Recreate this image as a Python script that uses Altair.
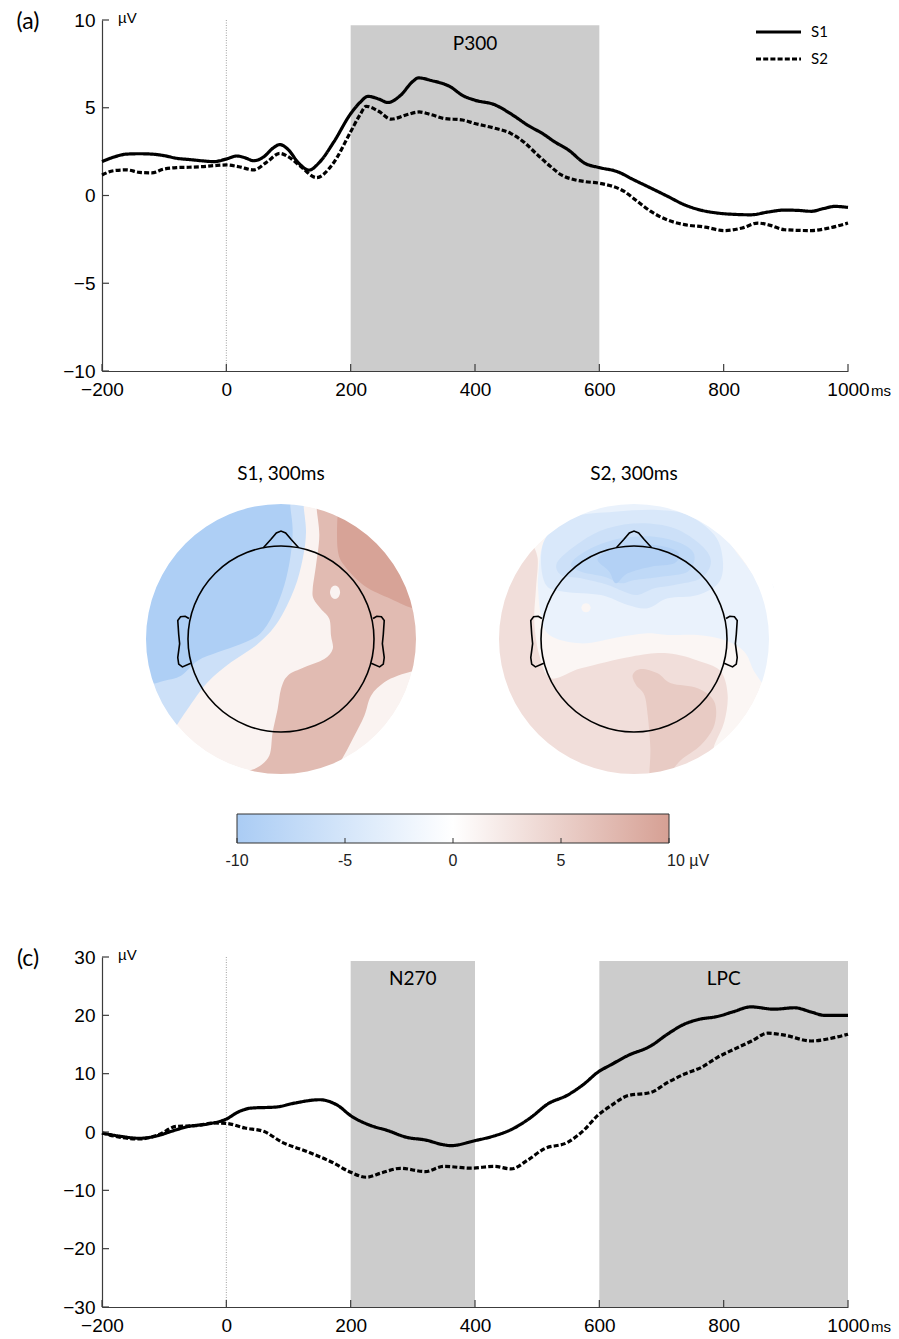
import altair as alt
import pandas as pd

# ------------------------------------------------------------------ data
X_TICKS = [-200, 0, 200, 400, 600, 800, 1000]
ONSET = [0]
CONDITIONS = ["S1", "S2"]

# (a) P300 waveforms  (ms, µV)
A_Y_TICKS = [-10, -5, 0, 5, 10]
A_S1 = [(-200, 1.93), (-180, 2.2), (-160, 2.36), (-140, 2.38), (-120, 2.36), (-100, 2.27), (-80, 2.12),
        (-60, 2.05), (-40, 1.98), (-20, 1.93), (0, 2.08), (17, 2.25), (30, 2.15), (44, 1.98), (60, 2.2),
        (75, 2.7), (86, 2.9), (100, 2.6), (115, 1.9), (133, 1.45), (150, 1.9), (173, 3.06), (200, 4.66),
        (215, 5.3), (228, 5.65), (245, 5.5), (260, 5.3), (280, 5.7), (300, 6.5), (309, 6.7), (330, 6.55),
        (361, 6.18), (380, 5.7), (400, 5.43), (431, 5.18), (460, 4.6), (485, 4.0), (510, 3.5), (528, 3.06),
        (550, 2.6), (577, 1.83), (600, 1.59), (629, 1.36), (655, 0.9), (683, 0.42), (710, -0.05),
        (737, -0.53), (765, -0.85), (790, -1.0), (820, -1.08), (844, -1.1), (870, -0.95), (898, -0.83),
        (920, -0.85), (941, -0.9), (960, -0.75), (979, -0.62), (1000, -0.68)]
A_S2 = [(-200, 1.17), (-180, 1.42), (-160, 1.46), (-140, 1.32), (-120, 1.29), (-100, 1.51), (-80, 1.59),
        (-60, 1.61), (-40, 1.64), (-20, 1.70), (0, 1.74), (20, 1.64), (44, 1.46), (65, 1.9), (86, 2.4),
        (100, 2.2), (120, 1.64), (145, 1.02), (170, 1.74), (200, 3.63), (215, 4.6), (225, 5.08), (245, 4.8),
        (265, 4.35), (290, 4.6), (310, 4.76), (330, 4.6), (350, 4.39), (380, 4.3), (400, 4.1), (430, 3.85),
        (458, 3.53), (480, 3.0), (501, 2.3), (520, 1.7), (539, 1.17), (560, 0.9), (577, 0.79), (600, 0.7),
        (640, 0.23), (660, -0.3), (683, -0.91), (710, -1.4), (737, -1.66), (770, -1.8), (801, -2.0),
        (830, -1.85), (855, -1.57), (875, -1.7), (898, -1.95), (941, -2.0), (970, -1.85), (1000, -1.57)]
A_WINDOWS = [(200, 600, "P300")]

# (c) N270 / LPC waveforms
C_Y_TICKS = [-30, -20, -10, 0, 10, 20, 30]
C_S1 = [(-200, -0.17), (-170, -0.74), (-140, -1.08), (-110, -0.63), (-90, 0.06), (-60, 0.97), (-30, 1.37),
        (0, 2.22), (20, 3.48), (40, 4.1), (80, 4.28), (110, 4.96), (150, 5.53), (180, 4.5), (200, 2.8),
        (230, 1.2), (260, 0.23), (290, -0.91), (320, -1.37), (350, -2.2), (361, -2.34), (400, -1.48),
        (430, -0.7), (458, 0.4), (490, 2.5), (517, 4.8), (549, 6.33), (575, 8.2), (597, 10.2), (620, 11.6),
        (645, 13.06), (683, 14.77), (710, 16.8), (737, 18.5), (760, 19.3), (790, 19.8), (815, 20.6),
        (844, 21.45), (881, 21.05), (914, 21.3), (940, 20.6), (962, 20.0), (1000, 20.0)]
C_S2 = [(-200, -0.17), (-170, -0.91), (-140, -1.2), (-110, -0.51), (-80, 0.97), (-50, 1.08), (-20, 1.54),
        (0, 1.48), (30, 0.68), (60, 0.11), (90, -1.77), (130, -3.37), (170, -5.19), (200, -6.9), (225, -7.76),
        (250, -7.0), (280, -6.22), (320, -6.79), (350, -5.88), (393, -6.2), (431, -5.88), (458, -6.33),
        (485, -4.8), (511, -2.9), (549, -1.77), (575, 0.3), (597, 2.8), (620, 4.6), (645, 6.2), (683, 6.8),
        (710, 8.5), (737, 9.93), (764, 11.07), (790, 12.8), (817, 14.2), (845, 15.6), (871, 16.94),
        (898, 16.6), (941, 15.6), (970, 16.0), (1000, 16.77)]
C_WINDOWS = [(200, 400, "N270"), (600, 1000, "LPC")]

# (b) topographic maps: contour regions (head units, head radius = 1, nose up), µV level
MAP_TITLES = {"S1": "S1, 300ms", "S2": "S2, 300ms"}
MAP_BASE_LEVEL = {"S1": 1.3, "S2": 1.0}

S1_LIGHTBLUE = [(-1.18, -1.02), (-1.147, -0.968), (-1.004, -0.753), (-0.789, -0.466), (-0.538, -0.251),
                (-0.251, -0.054), (-0.036, 0.179), (0.143, 0.538), (0.233, 0.860), (0.269, 1.147),
                (0.244, 1.434), (0.26, 1.55), (0.0, 1.56), (-0.775, 1.342), (-1.342, 0.775), (-1.55, 0.0),
                (-1.342, -0.775)]
S1_DARKBLUE = [(-1.50, -0.42), (-1.416, -0.484), (-1.254, -0.448), (-1.075, -0.394), (-0.896, -0.233),
               (-0.681, -0.143), (-0.430, -0.054), (-0.251, 0.036), (-0.143, 0.161), (-0.036, 0.376),
               (0.054, 0.645), (0.108, 0.932), (0.125, 1.183), (0.100, 1.427), (0.10, 1.56), (-0.40, 1.51),
               (-0.775, 1.342), (-1.342, 0.775), (-1.55, 0.0)]
S1_PINK = [(0.384, 1.405), (0.412, 1.111), (0.376, 0.789), (0.341, 0.538), (0.351, 0.430), (0.430, 0.323),
           (0.520, 0.215), (0.538, 0.036), (0.556, -0.108), (0.466, -0.215), (0.251, -0.305), (0.072, -0.394),
           (0.0, -0.538), (-0.036, -0.753), (-0.090, -1.004), (-0.125, -1.254), (-0.251, -1.380),
           (-0.394, -1.434), (-0.42, -1.50), (0.0, -1.56), (0.53, -1.46), (0.645, -1.308), (0.771, -1.075),
           (0.896, -0.824), (0.968, -0.609), (1.111, -0.466), (1.254, -0.394), (1.434, -0.341), (1.53, -0.30),
           (1.55, 0.0), (1.342, 0.775), (0.775, 1.342), (0.40, 1.51)]
S1_DARKPINK = [(0.609, 1.344), (0.609, 0.968), (0.681, 0.789), (0.896, 0.573), (1.183, 0.430), (1.416, 0.330),
               (1.54, 0.33), (1.342, 0.775), (1.0, 1.18), (0.64, 1.43)]
S1_HOLE = [(0.635, 0.502), (0.619, 0.553), (0.581, 0.574), (0.543, 0.553), (0.527, 0.502), (0.543, 0.451),
           (0.581, 0.430), (0.619, 0.451)]

S2_PINK = [(-1.108, 1.047), (-1.036, 0.867), (-1.054, 0.545), (-1.072, 0.186), (-1.018, -0.172), (-0.892, -0.423),
           (-0.570, -0.315), (-0.032, -0.190), (0.362, -0.154), (0.720, -0.244), (0.935, -0.351), (1.007, -0.602),
           (0.971, -0.889), (0.864, -1.140), (0.792, -1.355), (0.0, -1.56), (-0.775, -1.342), (-1.342, -0.775),
           (-1.55, 0.0), (-1.342, 0.775), (-1.134, 1.057)]
S2_FINGER = [(-0.014, -0.387), (0.075, -0.323), (0.254, -0.369), (0.398, -0.477), (0.685, -0.530), (0.864, -0.674),
             (0.864, -0.925), (0.720, -1.140), (0.505, -1.301), (0.398, -1.444), (0.40, -1.53), (0.17, -1.55),
             (0.165, -1.444), (0.176, -1.176), (0.147, -0.817), (0.111, -0.602), (0.022, -0.495)]
S2_PALEBLUE = [(-0.570, 1.405), (-0.821, 1.262), (-0.982, 1.011), (-1.029, 0.688), (-1.029, 0.509), (-1.0, 0.258),
               (-0.910, 0.043), (-0.570, -0.047), (-0.140, 0.025), (0.147, 0.061), (0.362, 0.043), (0.685, 0.043),
               (0.971, -0.011), (1.186, -0.136), (1.294, -0.351), (1.419, -0.513), (1.50, -0.52), (1.56, 0.0),
               (1.50, 0.56), (1.401, 0.545), (1.151, 0.867), (0.935, 1.154), (0.649, 1.369), (0.66, 1.45),
               (0.0, 1.56), (-0.60, 1.45)]
S2_LIGHTBLUE = [(-1.0, 0.867), (-0.928, 1.118), (-0.642, 1.315), (-0.211, 1.369), (0.254, 1.387), (0.577, 1.333),
                (0.864, 1.118), (0.953, 0.867), (0.918, 0.616), (0.685, 0.473), (0.362, 0.437), (0.147, 0.330),
                (-0.068, 0.366), (-0.355, 0.473), (-0.749, 0.509), (-0.946, 0.581)]
S2_BLUE = [(-0.821, 0.832), (-0.570, 1.047), (-0.283, 1.190), (0.075, 1.244), (0.434, 1.190), (0.720, 1.011),
           (0.828, 0.832), (0.720, 0.652), (0.434, 0.581), (0.219, 0.545), (0.039, 0.473), (-0.104, 0.509),
           (-0.283, 0.581), (-0.570, 0.652), (-0.785, 0.688)]
S2_DARKBLUE = [(-0.677, 0.814), (-0.462, 0.975), (-0.140, 1.082), (0.219, 1.100), (0.505, 1.029), (0.649, 0.903),
               (0.577, 0.724), (0.290, 0.670), (0.004, 0.634), (-0.140, 0.599), (-0.319, 0.670), (-0.570, 0.724)]
S2_DARKEST = [(-0.391, 0.867), (-0.140, 0.993), (0.219, 1.011), (0.470, 0.939), (0.434, 0.814), (0.183, 0.778),
              (-0.068, 0.706), (-0.194, 0.599), (-0.265, 0.724)]
S2_SPOT = [(-0.466, 0.337), (-0.491, 0.380), (-0.541, 0.380), (-0.566, 0.337), (-0.541, 0.294), (-0.491, 0.294)]

MAP_REGIONS = [  # drawn in this order
    ("S1", -6.0, S1_LIGHTBLUE), ("S1", -9.5, S1_DARKBLUE), ("S1", 7.2, S1_PINK),
    ("S1", 9.7, S1_DARKPINK), ("S1", 1.3, S1_HOLE),
    ("S2", 3.5, S2_PINK), ("S2", 5.5, S2_FINGER), ("S2", -2.5, S2_PALEBLUE), ("S2", -4.5, S2_LIGHTBLUE),
    ("S2", -6.0, S2_BLUE), ("S2", -7.5, S2_DARKBLUE), ("S2", -9.0, S2_DARKEST), ("S2", 1.0, S2_SPOT),
]

NOSE = [(-0.19, 0.982), (-0.11, 1.07), (-0.05, 1.14), (0.0, 1.16), (0.05, 1.14), (0.11, 1.07), (0.19, 0.982)]
EAR = [(0.99, 0.22), (1.03, 0.245), (1.08, 0.24), (1.11, 0.20), (1.10, 0.05), (1.09, -0.05), (1.11, -0.20),
       (1.10, -0.27), (1.06, -0.30), (0.97, -0.26)]

CBAR_RANGE = [-10, 10]
CBAR_TICKS = [-10, -5, 0, 5, 10]
CBAR_LABELS = ["-10", "-5", "0", "5", "10 µV"]
CBAR_COLORS = ["#aaccf4", "#ffffff", "#d6a094"]

# ------------------------------------------------------------------ style / layout
NUM_FONT = "Liberation Sans"
TXT_FONT = "Lato"
AXIS_COLOR = "#3c3c3c"
PLOT_W = 746
A_H = 351
C_H = 350
DASHES = [[1, 0], [5, 2.2]]

LEG_X0, LEG_X1, LEG_Y0, LEG_DY = 654, 699, 12, 27

MAP_UNIT = 93.0              # px per head radius
MAP_H = 443
MAP_CY_PX = 268
MAP_CENTERS = {"S1": 179 / MAP_UNIT, "S2": 532 / MAP_UNIT}
MAP_TITLE_Y = 165 / MAP_UNIT
DISC_R = 135
MASK_R = 149

CB_H = 143
CB_LEFT = 135
CB_LEN = 432


def erp_panel(s1, s2, ydom, yticks, shade_top, windows, letter, H, show_legend, label_y):
    df = pd.DataFrame([{"t": t, "v": v, "cond": "S1"} for t, v in s1] +
                      [{"t": t, "v": v, "cond": "S2"} for t, v in s2])
    xs = alt.Scale(domain=[-200, 1000], nice=False, zero=False)
    ys = alt.Scale(domain=ydom, nice=False, zero=False)
    dash = alt.Scale(domain=CONDITIONS, range=DASHES)
    xax = alt.Axis(values=X_TICKS, format="d", title=None, grid=False, ticks=False, labelFont=NUM_FONT,
                   labelFontSize=19, labelColor="black", labelPadding=9, labelFlush=False,
                   domainColor=AXIS_COLOR, domainWidth=1.2)
    yax = alt.Axis(values=yticks, format="d", title=None, grid=False, ticks=False, labelFont=NUM_FONT,
                   labelFontSize=19, labelColor="black", labelPadding=7, labelFlush=False,
                   domainColor=AXIS_COLOR, domainWidth=1.2)

    def X(f):
        return alt.X(f, scale=xs, axis=xax)

    def Y(f):
        return alt.Y(f, scale=ys, axis=yax)

    win = pd.DataFrame([{"start": s, "end": e, "label": l, "lo": ydom[0], "hi": shade_top} for s, e, l in windows])
    shade = alt.Chart(win).mark_rect(color="#cccccc").encode(x=X("start:Q"), x2="end:Q", y=Y("lo:Q"), y2="hi:Q")
    wlab = alt.Chart(win).transform_calculate(mid="(datum.start + datum.end) / 2").mark_text(
        font=TXT_FONT, fontSize=19, color="black", baseline="middle").encode(
        x=X("mid:Q"), y=alt.value(label_y), text="label:N")
    onset = alt.Chart(pd.DataFrame({"t": ONSET})).mark_rule(
        color="#a0a0a0", strokeWidth=1, strokeDash=[1, 1.5]).encode(x=X("t:Q"))
    lines = alt.Chart(df).mark_line(color="black", strokeWidth=3.2, interpolate="monotone").encode(
        x=X("t:Q"), y=Y("v:Q"),
        strokeDash=alt.StrokeDash("cond:N", scale=dash, legend=None))
    xt = alt.Chart(pd.DataFrame({"t": X_TICKS})).mark_rule(color=AXIS_COLOR, strokeWidth=1.2).encode(
        x=X("t:Q"), y=alt.value(H), y2=alt.value(H - 7))
    yt = alt.Chart(pd.DataFrame({"v": yticks})).mark_rule(color=AXIS_COLOR, strokeWidth=1.2).encode(
        y=Y("v:Q"), x=alt.value(0), x2=alt.value(7))
    uv = alt.Chart(pd.DataFrame({"s": ["µV"]})).mark_text(
        font=NUM_FONT, fontSize=15, align="left", baseline="middle", color="black").encode(
        x=alt.value(16), y=alt.value(-2), text="s:N")
    ms = alt.Chart(pd.DataFrame({"s": ["ms"]})).mark_text(
        font=NUM_FONT, fontSize=15, align="left", baseline="middle", color="black").encode(
        x=alt.value(PLOT_W + 23), y=alt.value(H + 20), text="s:N")
    let = alt.Chart(pd.DataFrame({"s": [letter]})).mark_text(
        font=TXT_FONT, fontSize=23, align="center", baseline="middle", color="black").encode(
        x=alt.value(-74), y=alt.value(2), text="s:N")
    layers = [shade, onset, wlab, lines, xt, yt, uv, ms, let]
    if show_legend:
        for i, cnd in enumerate(CONDITIONS):
            ldf = pd.DataFrame({"cond": [cnd]})
            layers.append(alt.Chart(ldf).mark_rule(color="black", strokeWidth=3.0).encode(
                x=alt.value(LEG_X0), x2=alt.value(LEG_X1), y=alt.value(LEG_Y0 + LEG_DY * i),
                strokeDash=alt.StrokeDash("cond:N", scale=dash, legend=None)))
            layers.append(alt.Chart(ldf).mark_text(
                font=TXT_FONT, fontSize=15, align="left", baseline="middle", color="black").encode(
                x=alt.value(LEG_X1 + 10), y=alt.value(LEG_Y0 + LEG_DY * i), text="cond:N"))
    return alt.layer(*layers).properties(width=PLOT_W, height=H)


# ------------------------------------------------------------------ (a)
panel_a = erp_panel(A_S1, A_S2, [-10, 10], A_Y_TICKS, 9.7, A_WINDOWS, "(a)", A_H, True, 24)

# ------------------------------------------------------------------ (b)
cscale = alt.Scale(domain=[-10, 0, 10], range=CBAR_COLORS, interpolate="rgb")
mxs = alt.Scale(domain=[0, PLOT_W / MAP_UNIT], nice=False, zero=False)
mys = alt.Scale(domain=[-(MAP_H - MAP_CY_PX) / MAP_UNIT, MAP_CY_PX / MAP_UNIT], nice=False, zero=False)


def MX(f):
    return alt.X(f, scale=mxs, axis=None)


def MY(f):
    return alt.Y(f, scale=mys, axis=None)


centers = pd.DataFrame([{"map": m, "cx": MAP_CENTERS[m], "cy": 0.0, "level": MAP_BASE_LEVEL[m],
                         "title": MAP_TITLES[m], "ty": MAP_TITLE_Y} for m in CONDITIONS])
poly_rows = []
for k, (m, lev, pts) in enumerate(MAP_REGIONS):
    for i, (u, v) in enumerate(pts):
        poly_rows.append({"pid": k, "map": m, "level": lev, "i": i, "x": u + MAP_CENTERS[m], "y": v})
poly_df = pd.DataFrame(poly_rows)

head_rows = []
for m in CONDITIONS:
    c = MAP_CENTERS[m]
    for i, (u, v) in enumerate(NOSE):
        head_rows.append({"part": m + "nose", "i": i, "x": u + c, "y": v})
    for i, (u, v) in enumerate(EAR):
        head_rows.append({"part": m + "earR", "i": i, "x": u + c, "y": v})
        head_rows.append({"part": m + "earL", "i": i, "x": -u + c, "y": v})
head_df = pd.DataFrame(head_rows)

disc = alt.Chart(centers).mark_arc(radius=DISC_R, theta=0, theta2=6.2832, strokeWidth=0).encode(
    x=MX("cx:Q"), y=MY("cy:Q"), fill=alt.Fill("level:Q", scale=cscale, legend=None))
region_layers = []
for k in range(len(MAP_REGIONS)):
    region_layers.append(
        alt.Chart(poly_df).transform_filter(f"datum.pid == {k}").mark_line(
            interpolate="cardinal-closed", strokeWidth=0).encode(
            x=MX("x:Q"), y=MY("y:Q"), order="i:Q",
            fill=alt.Fill("level:Q", scale=cscale, legend=None)))
mask = alt.Chart(centers).mark_arc(radius=MASK_R, radius2=DISC_R, theta=0, theta2=6.2832, fill="white",
                                   strokeWidth=0).encode(x=MX("cx:Q"), y=MY("cy:Q"))
head = alt.Chart(centers).mark_arc(radius=MAP_UNIT, theta=0, theta2=6.2832, fill="white", fillOpacity=0,
                                   stroke="black", strokeWidth=1.6).encode(x=MX("cx:Q"), y=MY("cy:Q"))
parts = alt.Chart(head_df).mark_line(color="black", strokeWidth=1.6).encode(
    x=MX("x:Q"), y=MY("y:Q"), detail="part:N", order="i:Q")
titles = alt.Chart(centers).mark_text(font=TXT_FONT, fontSize=19, color="black", baseline="middle").encode(
    x=MX("cx:Q"), y=MY("ty:Q"), text="title:N")
panel_b = alt.layer(disc, *region_layers, mask, head, parts, titles).properties(width=PLOT_W, height=MAP_H)

# ------------------------------------------------------------------ colour bar
px_per = CB_LEN / (CBAR_RANGE[1] - CBAR_RANGE[0])
cbx = alt.Scale(domain=[CBAR_RANGE[0] - CB_LEFT / px_per, CBAR_RANGE[0] + (PLOT_W - CB_LEFT) / px_per],
                nice=False, zero=False)
grad = alt.LinearGradient(gradient="linear", x1=0, x2=1, y1=0, y2=0,
                          stops=[alt.GradientStop(color=CBAR_COLORS[0], offset=0),
                                 alt.GradientStop(color=CBAR_COLORS[1], offset=0.5),
                                 alt.GradientStop(color=CBAR_COLORS[2], offset=1)])
cb_bar = alt.Chart(pd.DataFrame({"lo": [CBAR_RANGE[0]], "hi": [CBAR_RANGE[1]]})).mark_rect(
    fill=grad, stroke="#333333", strokeWidth=1).encode(
    x=alt.X("lo:Q", scale=cbx, axis=None), x2="hi:Q", y=alt.value(0), y2=alt.value(29))
cb_df = pd.DataFrame({"v": CBAR_TICKS, "lab": CBAR_LABELS, "idx": list(range(len(CBAR_TICKS)))})
cb_ticks = alt.Chart(cb_df).mark_rule(color="#333333", strokeWidth=1).encode(
    x=alt.X("v:Q", scale=cbx, axis=None), y=alt.value(29), y2=alt.value(24))
cb_labs = alt.Chart(cb_df).transform_filter(f"datum.idx < {len(CBAR_TICKS) - 1}").mark_text(
    font=NUM_FONT, fontSize=16, color="#222222", baseline="middle", align="center").encode(
    x=alt.X("v:Q", scale=cbx, axis=None), y=alt.value(47), text="lab:N")
cb_last = alt.Chart(cb_df).transform_filter(f"datum.idx == {len(CBAR_TICKS) - 1}").mark_text(
    font=NUM_FONT, fontSize=16, color="#222222", baseline="middle", align="left", dx=-2).encode(
    x=alt.X("v:Q", scale=cbx, axis=None), y=alt.value(47), text="lab:N")
panel_cb = alt.layer(cb_bar, cb_ticks, cb_labs, cb_last).properties(width=PLOT_W, height=CB_H)

# ------------------------------------------------------------------ (c)
panel_c = erp_panel(C_S1, C_S2, [-30, 30], C_Y_TICKS, 29.3, C_WINDOWS, "(c)", C_H, False, 22)

chart = alt.vconcat(panel_a, panel_b, panel_cb, panel_c, spacing=0, bounds="flush").resolve_scale(
    strokeDash="independent").configure_view(strokeWidth=0).properties(
    padding={"left": 8, "top": 3, "right": 0, "bottom": 0}, background="white")

chart.save("out.html", embed_options={"renderer": "svg", "actions": False})
